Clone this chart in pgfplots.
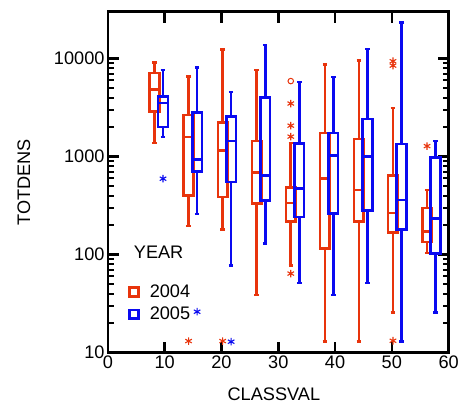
\documentclass[border=0pt]{standalone}
\usepackage{fontspec}
\setmainfont{Liberation Sans}
\usepackage{pgfplots}
\pgfplotsset{compat=1.18}
\usepgfplotslibrary{statistics}
\definecolor{cred}{RGB}{232,52,12}
\definecolor{cblue}{RGB}{10,10,240}
\newcommand{\fs}{\fontsize{18.4}{21}\selectfont}
\pgfplotsset{
  rb/.style={cred, line width=2.6bp, solid, mark=none},
  bb/.style={cblue, line width=2.6bp, solid, mark=none},
}
\newcommand{\bx}[7]{\addplot[#1, boxplot prepared={draw position=#2, lower whisker=#3, lower quartile=#4, median=#5, upper quartile=#6, upper whisker=#7}] coordinates {};}
\begin{document}
\begin{tikzpicture}
\begin{axis}[
  name=ax,
  scale only axis, width=344bp, height=344bp,
  xmin=0, xmax=60, ymin=10, ymax=30000, ymode=log,
  xtick={0,10,...,60},
  ytick={10,100,1000,10000}, yticklabels={10,100,1000,10000},
  /pgf/number format/assume math mode=true,
  tick align=inside,
  ticklabel style={font=\fs},
  label style={font=\fs},
  axis line style={line width=2.8bp},
  major tick style={line width=2.6bp, black},
  minor tick style={line width=2bp, black},
  major tick length=11bp, minor tick length=6bp,
  xlabel={CLASSVAL}, ylabel={TOTDENS},
  xlabel style={at={(rel axis cs:0.487,0)}, anchor=center, yshift=-42bp},
  ylabel style={at={(axis description cs:-0.247,0.5)}, anchor=center},
  boxplot/draw direction=y, boxplot/box extend=1.7, boxplot/whisker extend=0.8,
  legend style={draw=none, fill=none, font=\fs, at={(0.051,0.21)}, anchor=north west, row sep=4bp},
  legend cell align=left,
]
\addlegendimage{cred, legend image code/.code={\draw[cred, line width=2.6bp] (0bp,-4.5bp) rectangle (9bp,4.5bp); \path (18bp,0bp);}}
\addlegendimage{cblue, legend image code/.code={\draw[cblue, line width=2.6bp] (0bp,-4.5bp) rectangle (9bp,4.5bp); \path (18bp,0bp);}}
% 2004 (red)
\bx{rb}{8.2}{1374}{2870}{4860}{7160}{9180}
\bx{rb}{14.2}{195}{401}{1580}{2655}{6580}
\bx{rb}{20.2}{180}{388}{1150}{2240}{12330}
\bx{rb}{26.2}{38.8}{330}{689}{1440}{7620}
\bx{rb}{32.2}{77}{219}{337}{486}{1374}
\bx{rb}{38.2}{12.9}{116}{595}{1733}{8690}
\bx{rb}{44.2}{12.9}{219}{454}{1520}{9550}
\bx{rb}{50.2}{25.5}{167}{265}{638}{3130}
\bx{rb}{56.2}{104}{134}{173}{299}{457}
% 2005 (blue)
\bx{bb}{9.7}{1593}{2010}{3510}{4100}{7620}
\bx{bb}{15.7}{259}{705}{940}{2825}{8170}
\bx{bb}{21.7}{76.9}{550}{1440}{2550}{4570}
\bx{bb}{27.7}{129}{357}{643}{4000}{13840}
\bx{bb}{33.7}{51.3}{242}{475}{1352}{5770}
\bx{bb}{39.7}{38.8}{261}{1030}{1733}{6520}
\bx{bb}{45.7}{51.3}{282}{1000}{2420}{12530}
\bx{bb}{51.7}{12.9}{180}{362}{1340}{23300}
\bx{bb}{57.7}{25.5}{102}{233}{977}{1440}
% outliers
\addplot[only marks, mark=asterisk, mark size=3.8bp, cred, line width=1.1bp] coordinates {
 (14.2,13.1) (20.2,13.1) (32.2,3480) (32.2,2070) (32.2,1600) (32.2,64)
 (50.2,9400) (50.2,8490) (50.2,13.2) (56.2,1280)};
\addplot[only marks, mark=o, mark size=2.8bp, cred, line width=1bp] coordinates {(32.2,5900)};
\addplot[only marks, mark=asterisk, mark size=3.8bp, cblue, line width=1.1bp] coordinates {
 (9.7,595) (15.7,26.1) (21.7,12.9)};
\legend{2004,2005}
\node[anchor=base west, inner sep=0pt, font=\fs] at (rel axis cs:0.0756,0.276) {YEAR};
\end{axis}
\path ([xshift=-109bp,yshift=-52bp]ax.south west) rectangle ([xshift=9bp,yshift=12bp]ax.north east);
\end{tikzpicture}
\end{document}
